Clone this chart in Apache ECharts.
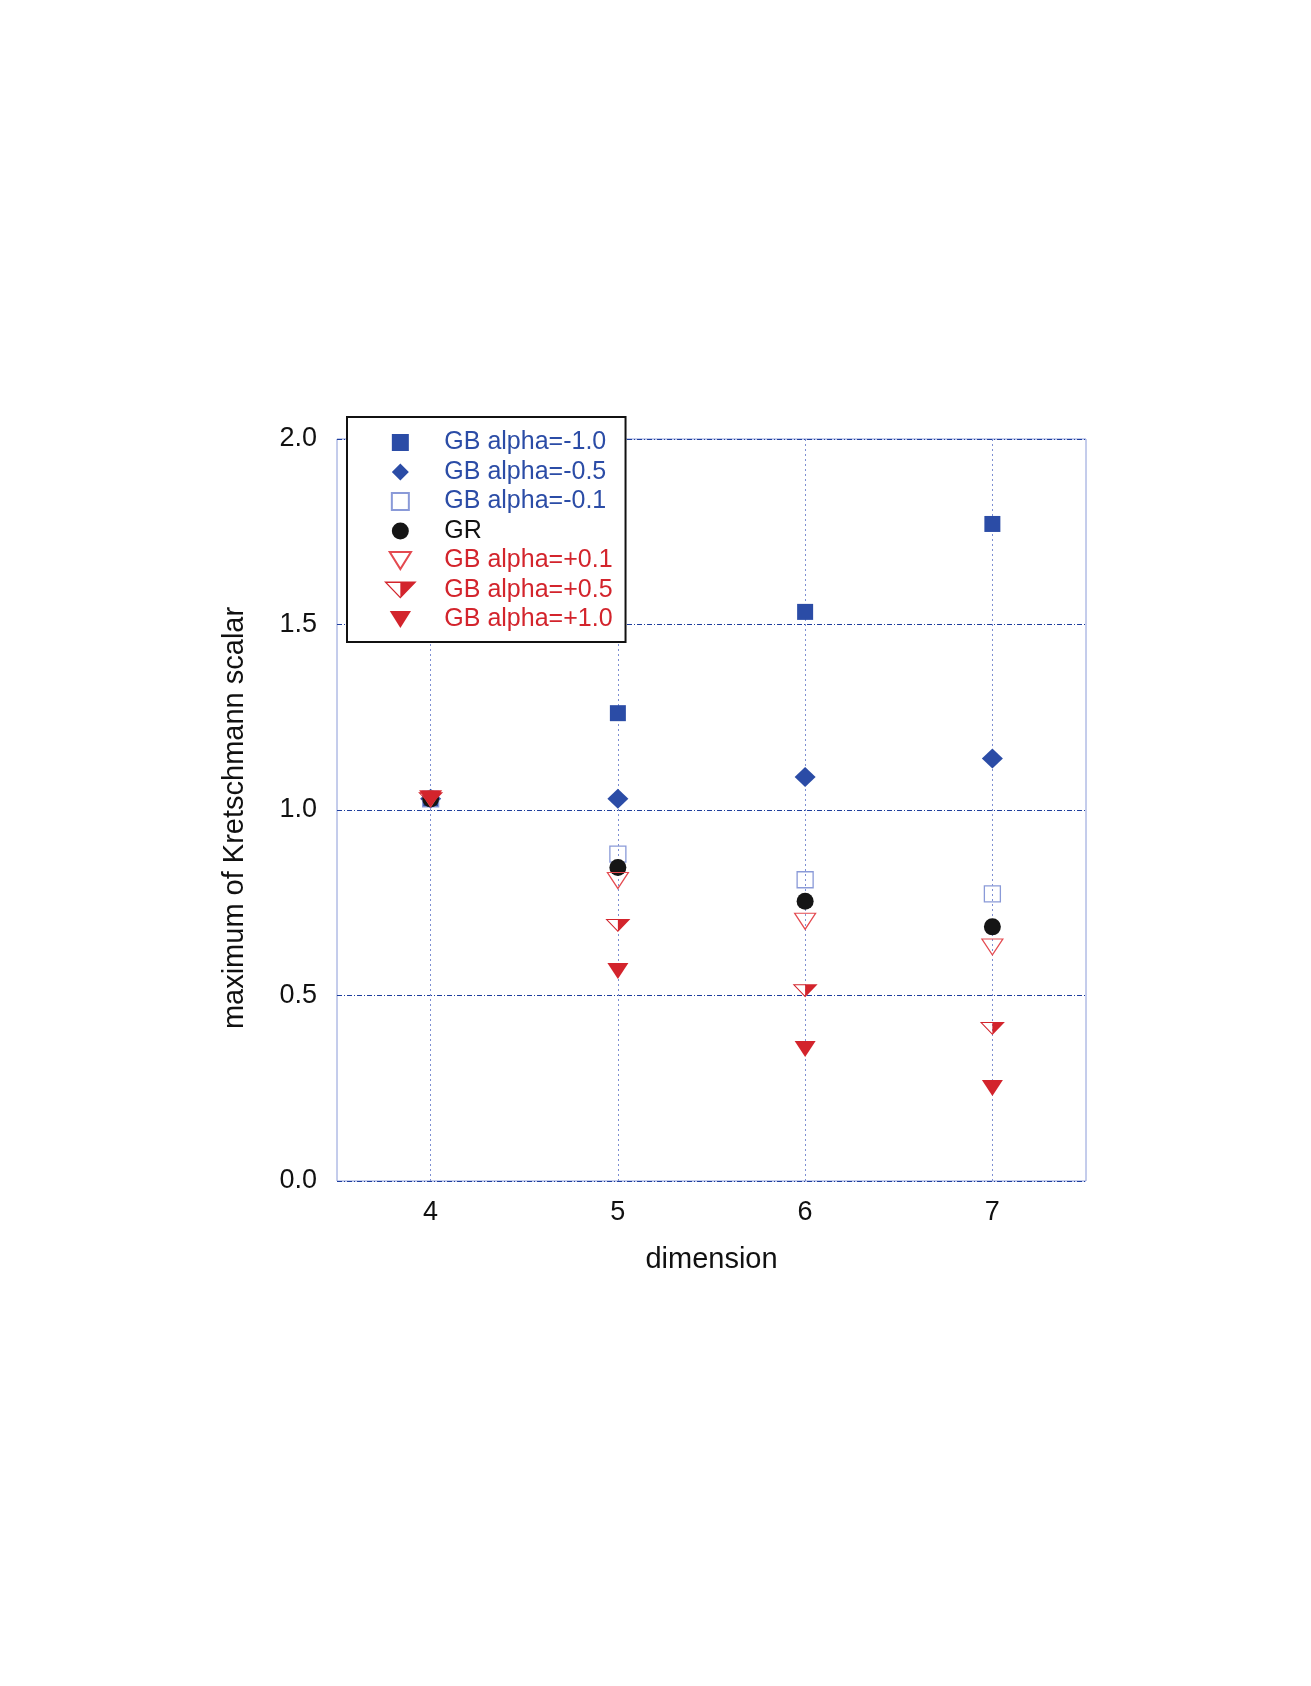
<!DOCTYPE html>
<html>
<head>
<meta charset="utf-8">
<script src="https://cdn.jsdelivr.net/npm/echarts@6/dist/echarts.min.js"></script>
<style>html,body{margin:0;padding:0;background:#fff}#c{width:1311px;height:1686px}</style>
</head>
<body>
<div id="c"></div>
<script>
// ---- data ----
const dims = [4, 5, 6, 7];
const xTicks = [4, 5, 6, 7];
const yTicks = [0.0, 0.5, 1.0, 1.5, 2.0];
const names = ['GB alpha=-1.0', 'GB alpha=-0.5', 'GB alpha=-0.1', 'GR', 'GB alpha=+0.1', 'GB alpha=+0.5', 'GB alpha=+1.0'];
const alphaM10 = [1.03, 1.261, 1.534, 1.771];
const alphaM05 = [1.03, 1.030, 1.089, 1.139];
const alphaM01 = [1.03, 0.881, 0.812, 0.774];
const grVals   = [1.03, 0.845, 0.754, 0.685];
const alphaP01 = [1.03, 0.810, 0.700, 0.631];
const alphaP05 = [1.03, 0.689, 0.513, 0.411];
const alphaP10 = [1.03, 0.566, 0.356, 0.251];

const BLUE = '#2b4ca6';
const LBLUE = '#8a9ad8';
const RED = '#d3242c';
const LRED = '#e44a50';
const FONT = "'Liberation Sans', Arial, Helvetica, sans-serif";

const sqPath = 'path://M0,0 L16,0 L16,16 L0,16 Z';
const diaPath = 'path://M10,0 L20,10 L10,20 L0,10 Z';
const triDown = 'path://M0,0 L20,0 L10,16 Z';
// half-filled down triangle: outline ring + filled right half
const triHalf = 'path://M0,0 L25,0 L12.5,13 Z M2.4,1.1 L12.5,11.6 L22.6,1.1 Z M12.5,0 L25,0 L12.5,13 Z';

const pts = arr => dims.map((d, i) => [d, arr[i]]);

const series = [
  {name: names[0], data: pts(alphaM10), symbol: sqPath, symbolSize: 16, itemStyle: {color: BLUE}},
  {name: names[1], data: pts(alphaM05), symbol: diaPath, symbolSize: [21, 20], itemStyle: {color: BLUE}},
  {name: names[2], data: pts(alphaM01), symbol: sqPath, symbolSize: 16, itemStyle: {color: 'rgba(255,255,255,0)', borderColor: LBLUE, borderWidth: 1.3}},
  {name: names[3], data: pts(grVals), symbol: 'circle', symbolSize: 17, itemStyle: {color: '#151515'}},
  {name: names[4], data: pts(alphaP01), symbol: triDown, symbolSize: [21, 16], itemStyle: {color: 'rgba(255,255,255,0)', borderColor: LRED, borderWidth: 1.2}},
  {name: names[5], data: pts(alphaP05), symbol: triHalf, symbolSize: [25, 13], itemStyle: {color: RED}},
  {name: names[6], data: pts(alphaP10), symbol: triDown, symbolSize: [21, 16], itemStyle: {color: RED}}
].map(s => {
  s.itemStyle.opacity = 1;
  return Object.assign({type: 'scatter', z: 3, symbolKeepAspect: false, emphasis: {disabled: true}}, s);
});

// vertical grid lines at the x ticks
series[0].markLine = {
  silent: true, symbol: 'none', z: 1, animation: false,
  label: {show: false},
  lineStyle: {color: '#7d8fd2', type: [2, 3], width: 1, opacity: 1},
  data: xTicks.map(v => ({xAxis: v}))
};

const legendColors = [BLUE, BLUE, BLUE, '#111', RED, RED, RED];

const chart = echarts.init(document.getElementById('c'), null, {renderer: 'canvas'});
chart.setOption({
  animation: false,
  backgroundColor: '#fff',
  textStyle: {fontFamily: FONT},
  grid: {left: 337, right: 225, top: 439, bottom: 505, show: true, borderColor: LBLUE, borderWidth: 1, backgroundColor: 'transparent', z: 0},
  xAxis: {
    type: 'value', min: 3.5, max: 7.5, interval: 0.5,
    name: 'dimension', nameLocation: 'middle', nameGap: 64,
    nameTextStyle: {fontSize: 29, color: '#111', fontFamily: FONT},
    axisLine: {show: false}, axisTick: {show: false},
    splitLine: {show: false},
    axisLabel: {fontSize: 27, color: '#111', margin: 18, fontFamily: FONT,
      formatter: v => (xTicks.indexOf(v) >= 0 ? String(v) : '')}
  },
  yAxis: {
    type: 'value', min: yTicks[0], max: yTicks[yTicks.length - 1], interval: 0.5,
    name: 'maximum of Kretschmann scalar', nameLocation: 'middle', nameGap: 88,
    nameTextStyle: {fontSize: 29, color: '#111', fontFamily: FONT, padding: [0, 16, 0, 0]},
    axisLine: {show: false}, axisTick: {show: false},
    splitLine: {show: true, lineStyle: {color: '#1f3f9e', type: [5, 2, 1, 2], width: 1.1}},
    axisLabel: {fontSize: 27, color: '#111', margin: 20, fontFamily: FONT,
      formatter: v => v.toFixed(1)}
  },
  legend: {
    orient: 'vertical', left: 347, top: 417,
    padding: [13, 13, 10, 37],
    backgroundColor: '#fff', borderColor: '#111', borderWidth: 2,
    itemWidth: 78, itemHeight: 17, itemGap: 4.5,
    symbolKeepAspect: true,
    selectedMode: false,
    textStyle: {fontSize: 25, fontFamily: FONT},
    data: names.map((n, i) => ({name: n, textStyle: {color: legendColors[i]}}))
  },
  series: series
});
</script>
</body>
</html>
